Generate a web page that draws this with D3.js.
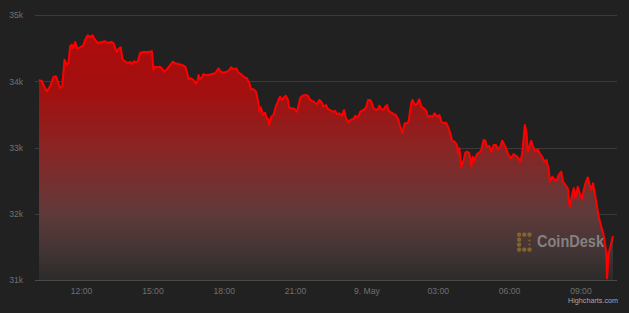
<!DOCTYPE html>
<html>
<head>
<meta charset="utf-8">
<script src="https://cdn.jsdelivr.net/npm/d3@7"></script>
<style>
  html, body { margin: 0; padding: 0; background: #212121; }
  svg { display: block; }
  text { font-family: "Liberation Sans", Arial, sans-serif; }
</style>
</head>
<body>
<svg id="chart" width="629" height="313"></svg>
<script>
// Time in hours since 8 May 00:00 (values > 24 are on 9 May)
const hours = [10.23,10.35,10.44,10.56,10.70,10.83,10.94,11.02,11.12,11.21,11.30,11.40,11.47,11.54,11.61,11.68,11.75,11.84,11.96,12.10,
12.17,12.28,12.38,12.48,12.59,12.70,12.87,13.01,13.12,13.26,13.36,13.43,13.50,13.59,13.67,13.74,13.85,13.97,14.06,14.13,
14.24,14.31,14.39,14.48,14.62,14.83,14.98,15.01,15.04,15.11,15.19,15.30,15.40,15.49,15.61,15.75,15.86,15.96,16.09,16.24,
16.38,16.45,16.52,16.62,16.73,16.84,16.89,16.94,17.01,17.08,17.15,17.22,17.36,17.50,17.64,17.78,17.88,17.99,18.13,18.24,
18.31,18.41,18.52,18.62,18.72,18.83,18.97,19.08,19.14,19.25,19.36,19.46,19.50,19.56,19.65,19.74,19.81,19.87,19.91,20.00,
20.09,20.19,20.30,20.37,20.45,20.56,20.61,20.70,20.75,20.87,20.98,21.08,21.15,21.22,21.31,21.43,21.54,21.64,21.78,21.92,
22.02,22.10,22.20,22.30,22.38,22.48,22.58,22.69,22.76,22.86,22.97,23.06,23.14,23.25,23.33,23.46,23.53,23.64,23.74,23.88,
23.98,24.07,24.16,24.23,24.30,24.40,24.49,24.54,24.63,24.72,24.79,24.87,24.93,25.05,25.14,25.24,25.35,25.42,25.52,25.61,
25.71,25.77,25.89,25.94,26.03,26.13,26.22,26.31,26.41,26.51,26.59,26.69,26.78,26.87,26.97,27.07,27.15,27.25,27.35,27.43,
27.53,27.60,27.71,27.81,27.85,27.91,27.99,28.09,28.16,28.23,28.33,28.41,28.47,28.55,28.65,28.75,28.83,28.93,29.00,29.07,
29.17,29.25,29.35,29.45,29.54,29.63,29.71,29.77,29.84,29.89,29.98,30.08,30.19,30.31,30.40,30.48,30.55,30.61,30.66,30.73,
30.78,30.87,30.93,31.01,31.11,31.20,31.29,31.39,31.49,31.57,31.67,31.71,31.81,31.91,31.99,32.09,32.19,32.27,32.37,32.47,
32.55,32.65,32.72,32.79,32.89,32.97,33.07,33.14,33.21,33.31,33.39,33.45,33.53,33.63,33.70,33.77,33.87,33.96,34.01,34.09,
34.12,34.19,34.26,34.33,34.37];

const prices = [34020,34000,33928,33848,33924,34060,34075,33999,33898,33924,34325,34250,34275,34528,34552,34502,34592,34491,34512,34543,
34627,34694,34663,34694,34627,34577,34592,34603,34577,34592,34577,34502,34442,34494,34512,34325,34301,34275,34291,34260,
34301,34283,34301,34426,34442,34442,34452,34321,34170,34220,34211,34220,34195,34144,34180,34245,34295,34271,34260,34245,
34220,34144,34029,34045,34019,33959,34008,34094,34029,34060,34109,34094,34094,34109,34120,34195,34144,34129,34144,34170,
34211,34180,34195,34129,34109,34069,34045,33969,33879,33879,33842,33667,33540,33607,33491,33525,33441,33430,33340,33465,
33491,33616,33717,33767,33717,33767,33782,33717,33601,33592,33581,33540,33642,33752,33782,33792,33782,33717,33691,33652,
33717,33691,33616,33642,33581,33566,33540,33551,33501,33516,33480,33566,33441,33380,33415,33430,33480,33450,33540,33566,
33601,33717,33717,33667,33592,33566,33581,33631,33581,33566,33616,33642,33556,33525,33506,33491,33415,33314,33223,33365,
33365,33390,33676,33717,33642,33657,33728,33616,33592,33556,33465,33476,33465,33516,33465,33491,33390,33365,33374,33314,
33214,33103,33088,33038,32913,32988,32701,32811,32922,32937,32913,32710,32861,32811,32902,32922,32962,33113,33103,33012,
33023,32937,33038,33038,32973,33012,33103,33063,33012,32973,32887,32837,32902,32872,32837,32786,32913,33139,33340,33239,
32937,33038,33103,33012,32937,32973,32913,32861,32786,32811,32660,32484,32559,32520,32499,32585,32635,32484,32434,32384,
32097,32283,32384,32233,32408,32309,32218,32359,32460,32550,32434,32359,32460,32257,32106,31956,31815,31705,31604,31403,
31026,31403,31503,31604,31664];

const xTickHours = [12, 15, 18, 21, 24, 27, 30, 33];
const xTickLabels = ["12:00", "15:00", "18:00", "21:00", "9. May", "03:00", "06:00", "09:00"];
const yTickValues = [31000, 32000, 33000, 34000, 35000];
const yTickLabels = ["31k", "32k", "33k", "34k", "35k"];

const base = new Date(2022, 4, 8, 0, 0, 0).getTime();
const toDate = h => new Date(base + h * 3600 * 1000);
const data = hours.map((h, i) => ({ t: toDate(h), v: prices[i] }));

const svg = d3.select("#chart");
const W = 629, H = 313;
const plot = { left: 35, right: 617, top: 15, bottom: 280 };

svg.append("rect").attr("width", W).attr("height", H).attr("fill", "#212121");

const x = d3.scaleTime()
  .domain(d3.extent(data, d => d.t))
  .range([39, 613]);
const y = d3.scaleLinear()
  .domain([31000, 35000])
  .range([plot.bottom, plot.top]);

// gradient
const defs = svg.append("defs");
const grad = defs.append("linearGradient")
  .attr("id", "areaGrad")
  .attr("gradientUnits", "userSpaceOnUse")
  .attr("x1", 0).attr("y1", plot.top).attr("x2", 0).attr("y2", plot.bottom);
[[0, "rgb(176,10,10)"], [0.3, "rgb(162,16,16)"], [0.5, "rgb(138,36,36)"],
 [0.75, "rgb(96,58,58)"], [0.9, "rgb(64,52,52)"], [1, "rgb(44,42,42)"]]
  .forEach(([o, c]) => grad.append("stop").attr("offset", o).attr("stop-color", c));

// y axis with grid
const yAxis = d3.axisLeft(y)
  .tickValues(yTickValues)
  .tickFormat((d, i) => yTickLabels[i])
  .tickSize(-(plot.right - plot.left))
  .tickPadding(12);
const gy = svg.append("g")
  .attr("transform", `translate(${plot.left},0)`)
  .call(yAxis);
gy.select(".domain").remove();
gy.selectAll(".tick line").attr("stroke", "#3b3b3b").attr("stroke-width", 1)
  .attr("shape-rendering", "crispEdges");
gy.selectAll(".tick text").attr("fill", "#707070").attr("font-size", "8.6px")
  .attr("font-family", "'Liberation Sans', Arial, sans-serif");

// area + line
const area = d3.area()
  .x(d => x(d.t))
  .y0(plot.bottom)
  .y1(d => y(d.v));
const line = d3.line()
  .x(d => x(d.t))
  .y(d => y(d.v));

svg.append("path").datum(data)
  .attr("d", area)
  .attr("fill", "url(#areaGrad)");

// bottom axis line
svg.append("line")
  .attr("x1", plot.left).attr("x2", plot.right)
  .attr("y1", plot.bottom + 0.5).attr("y2", plot.bottom + 0.5)
  .attr("stroke", "#4a4a4a").attr("stroke-width", 1);

svg.append("path").datum(data)
  .attr("d", line)
  .attr("fill", "none")
  .attr("stroke", "#ff0000")
  .attr("stroke-width", 2)
  .attr("stroke-linejoin", "round");

// x axis
const xAxis = d3.axisBottom(x)
  .tickValues(xTickHours.map(toDate))
  .tickFormat((d, i) => xTickLabels[i])
  .tickSize(0)
  .tickPadding(8);
const gx = svg.append("g")
  .attr("transform", `translate(0,${plot.bottom})`)
  .call(xAxis);
gx.select(".domain").remove();
gx.selectAll(".tick text").attr("fill", "#707070").attr("font-size", "8.6px")
  .attr("font-family", "'Liberation Sans', Arial, sans-serif")
  .attr("dy", "0.71em").attr("y", 8);

// CoinDesk watermark
const wm = svg.append("g").attr("opacity", 0.85);
const gold = "#8c6d2c";
const dots = [[0,0],[1,0],[2,0],[0,1],[0,2],[0,3],[1,3],[2,3]];
dots.forEach(([c, r]) => {
  wm.append("rect")
    .attr("x", 517 + c * 5.2).attr("y", 232.5 + r * 5)
    .attr("width", 4.2).attr("height", 4.2).attr("rx", 1.6)
    .attr("fill", gold);
});
[[2,1.3],[2,2.1]].forEach(([c, r]) => {
  wm.append("circle").attr("cx", 517 + c * 5.2 + 2.1).attr("cy", 232.5 + r * 5 + 1.5)
    .attr("r", 1.1).attr("fill", gold);
});
wm.append("text")
  .attr("x", 537).attr("y", 247)
  .attr("font-size", "16px").attr("font-weight", "bold")
  .attr("fill", "#8f8f8f")
  .attr("textLength", 67).attr("lengthAdjust", "spacingAndGlyphs")
  .text("CoinDesk");

// credits
svg.append("text")
  .attr("x", 618).attr("y", 303)
  .attr("text-anchor", "end")
  .attr("font-size", "7.2px")
  .attr("fill", "#a4a8b0")
  .text("Highcharts.com");
</script>
</body>
</html>
